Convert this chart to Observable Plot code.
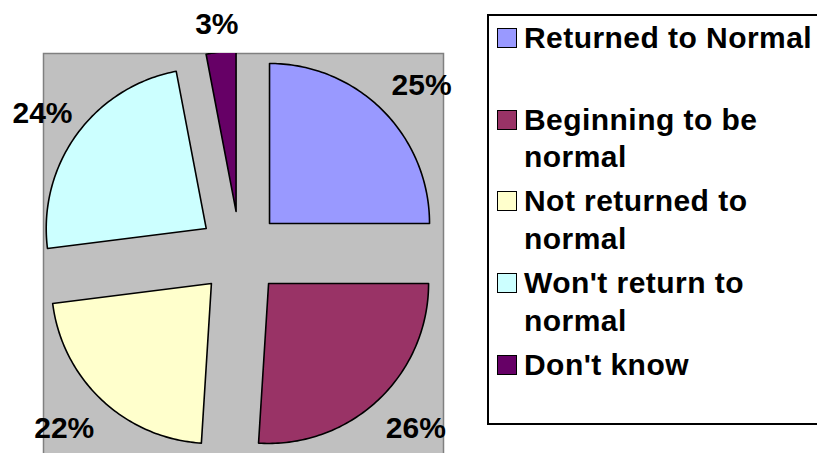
<!DOCTYPE html>
<html>
<head>
<meta charset="utf-8">
<script src="https://cdn.jsdelivr.net/npm/d3@7"></script>
<script src="https://cdn.jsdelivr.net/npm/@observablehq/plot@0.6"></script>
<style>
  html, body { margin: 0; padding: 0; background: #fff; overflow: hidden; }
  body { position: relative; width: 817px; height: 453px; font-family: "Liberation Sans", Arial, sans-serif; }
  #chart { position: absolute; left: 0; top: 0; }
  #legend { position: absolute; left: 487px; top: 14px; width: 360px; height: 411px; border: 2px solid #000; box-sizing: border-box; background: #fff; }
  .entry { position: absolute; left: 0; font-weight: bold; font-size: 30px; letter-spacing: 0.45px; line-height: 37.5px; color: #000; }
  .sw { position: absolute; left: 8px; top: 9px; width: 20px; height: 20px; border: 1.5px solid #000; box-sizing: border-box; }
  .lbl { position: absolute; left: 35px; top: 0; white-space: nowrap; }
</style>
</head>
<body>
<div id="chart"></div>
<div id="legend"></div>
<script>
const categories = ["Returned to Normal", "Beginning to be normal", "Not returned to normal", "Won't return to normal", "Don't know"];
const legendLines = [["Returned to Normal"], ["Beginning to be", "normal"], ["Not returned to", "normal"], ["Won't return to", "normal"], ["Don't know"]];
const values = [25, 26, 22, 24, 3];
const colors = ["#9999FF", "#993366", "#FFFFCC", "#CCFFFF", "#660066"];

const R = 160;            // pie radius in px (1 data unit)
const explode = 0.261;    // explosion distance in radii
const total = d3.sum(values);
const deg = Math.PI / 180;

// slice angles, clockwise from 12 o'clock
let acc = 0;
const slices = categories.map((name, i) => {
  const a0 = acc / total * 360;
  acc += values[i];
  const a1 = acc / total * 360;
  return {name, value: values[i], a0, a1, mid: (a0 + a1) / 2};
});

// polygon points in data units (y up)
const pts = [];
for (const s of slices) {
  const ox = explode * Math.sin(s.mid * deg), oy = explode * Math.cos(s.mid * deg);
  pts.push({name: s.name, x: ox, y: oy});
  const n = Math.max(2, Math.ceil(s.a1 - s.a0));
  for (let k = 0; k <= n; k++) {
    const a = (s.a0 + (s.a1 - s.a0) * k / n) * deg;
    pts.push({name: s.name, x: ox + Math.sin(a), y: oy + Math.cos(a)});
  }
  pts.push({name: s.name, x: ox, y: oy});
}

const mL = 43, mT = 53, W = 817, H = 456, mR = 817 - 443;
const cx = 239.5, cy = 252.5;
const xDomain = [-(cx - mL) / R, (W - mR - cx) / R];
const yDomain = [-(H - cy) / R, (cy - mT) / R];

// label positions: outside each exploded slice along its bisector, kept inside the chart area
const fs = 30;
const pad = 12;
const labels = slices.map(s => {
  const txt = s.value + "%";
  const hw = ((txt.length - 1) * 0.556 + 0.889) * fs / 2;
  const hh = 10.7;
  const a = s.mid * deg;
  const D = (1 + explode) * R + 16;
  // offsets in px, y up
  let px = D * Math.sin(a) + 1.3 * hw * Math.sin(a);
  let py = D * Math.cos(a) + 21 * Math.cos(a);
  // clamp to chart area (px relative to pie centre)
  px = Math.max(px, pad + hw - cx);
  py = Math.min(py, cy - pad - hh);
  return {text: txt, x: px / R, y: (py - 1.1) / R};
});

const chart = Plot.plot({
  width: W, height: H,
  marginLeft: mL, marginRight: mR, marginTop: mT, marginBottom: 0,
  x: {domain: xDomain, axis: null},
  y: {domain: yDomain, axis: null},
  color: {domain: categories, range: colors},
  style: {fontFamily: '"Liberation Sans", Arial, sans-serif', background: "transparent", overflow: "visible"},
  marks: [
    Plot.frame({fill: "#C0C0C0", stroke: "#808080", strokeWidth: 1.5}),
    Plot.line(pts, {x: "x", y: "y", z: "name", fill: "name", stroke: "#000", strokeWidth: 1.6, strokeLinejoin: "round", curve: "linear", clip: true}),
    Plot.text(labels, {x: "x", y: "y", text: "text", fontSize: fs, fontWeight: "bold", fill: "#000"})
  ]
});
document.getElementById("chart").appendChild(chart);

// legend
const legend = document.getElementById("legend");
const baseline0 = 48, step = 81.75;
legendLines.forEach((lines, i) => {
  const e = document.createElement("div");
  e.className = "entry";
  const baseline = baseline0 + i * step;
  e.style.top = (baseline - 29.15 - 14 - 2) + "px";
  const sw = document.createElement("div");
  sw.className = "sw";
  sw.style.background = colors[i];
  e.appendChild(sw);
  const t = document.createElement("div");
  t.className = "lbl";
  t.innerHTML = lines.join("<br>");
  e.appendChild(t);
  legend.appendChild(e);
});
</script>
</body>
</html>
